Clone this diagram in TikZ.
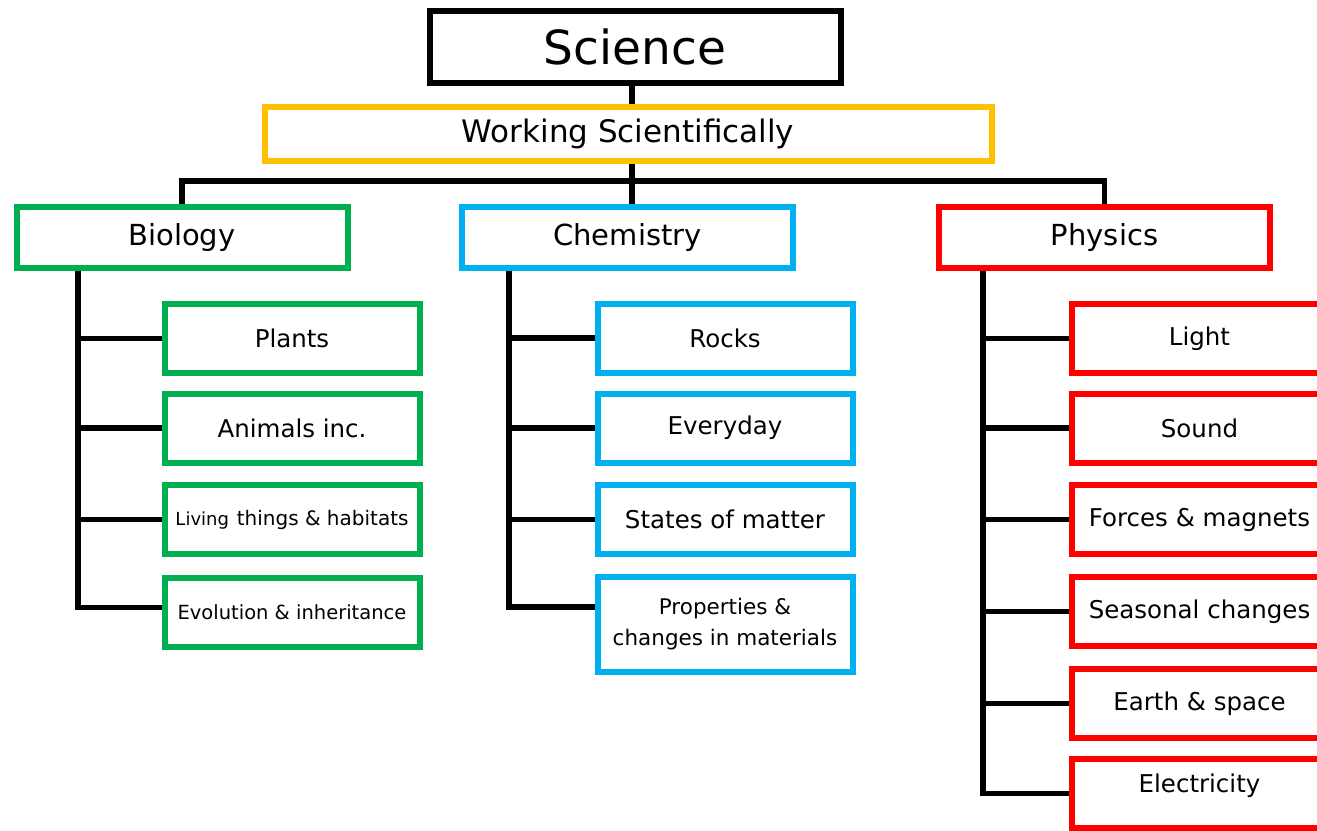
\documentclass[tikz,border=0pt]{standalone}
\usepackage{fontspec}
\setmainfont{DejaVu Sans}
\usetikzlibrary{positioning}

\definecolor{biogreen}{HTML}{00B050}
\definecolor{chemblue}{HTML}{00B0F0}
\definecolor{physred}{HTML}{FF0000}
\definecolor{wsyellow}{HTML}{FFC000}

\tikzset{
  box/.style={draw, line width=6pt, fill=white, inner sep=0pt, align=center},
  subject/.style={box, minimum width=331pt, minimum height=61pt, font=\fontsize{29}{32}\selectfont},
  topic/.style={box, minimum width=255pt, minimum height=69pt, font=\fontsize{24.5}{29}\selectfont},
  link/.style={line width=5.5pt},
}

\begin{document}
\begin{tikzpicture}[x=1pt, y=-1pt]
  \useasboundingbox (0,0) rectangle (1317,830);
  \clip (0,0) rectangle (1317,830);
  \fill[white] (0,0) rectangle (1317,830);

  % top of the tree
  \node[box, minimum width=411pt, minimum height=72pt, font=\fontsize{47}{50}\selectfont] (sci) at (635,46.5) {Science};
  \node[box, draw=wsyellow, minimum width=727pt, minimum height=54pt, font=\fontsize{31}{34}\selectfont] (work) at (628,133.5) {Working Scientifically};

  \node[subject, draw=biogreen] (bio) at (182,237) {Biology};
  \node[subject, draw=chemblue] (chem) at (627.5,237) {Chemistry};
  \node[subject, draw=physred] (phys) at (1104.5,237) {Physics};

  \coordinate (trunk) at (632,181);
  \draw[link] (trunk |- sci.south) -- (trunk |- work.north);
  \draw[link] (trunk |- work.south) -- (trunk |- chem.north);
  \draw[link] (bio.north) |- (trunk) -| (phys.north);

  % biology
  \node[topic, draw=biogreen] (plants) at (292,338.5) {Plants};
  \node[topic, draw=biogreen] (animals) at (292,428) {Animals inc.};
  \node[topic, draw=biogreen] (living) at (292,519.5) {{\fontsize{18}{22}\selectfont Living} {\fontsize{20}{22}\selectfont things \& habitats}};
  \node[topic, draw=biogreen, font=\fontsize{19.5}{22}\selectfont] (evol) at (292,612.5) {Evolution \& inheritance};

  \coordinate (biospine) at (78,0);
  \draw[link] (biospine |- bio.south) |- ([yshift=5pt]evol.west);
  \foreach \n in {plants,animals,living}
    \draw[link] (biospine |- \n.west) -- (\n.west);

  % chemistry
  \node[topic, draw=chemblue] (rocks) at (725,338) {Rocks};
  \node[topic, draw=chemblue] (everyday) at (725,428) {Everyday};
  \node[topic, draw=chemblue] (states) at (725,519.5) {States of matter};
  \node[topic, draw=chemblue, minimum height=95pt, font=\fontsize{21.5}{31}\selectfont] (props) at (725,624) {Properties \&\\changes in materials};

  \coordinate (chemspine) at (509,0);
  \draw[link] (chemspine |- chem.south) |- ([yshift=17pt]props.west);
  \foreach \n in {rocks,everyday,states}
    \draw[link] (chemspine |- \n.west) -- (\n.west);

  % physics
  \node[topic, draw=physred] (light) at (1199.5,338.5) {Light};
  \node[topic, draw=physred] (sound) at (1199.5,428) {Sound};
  \node[topic, draw=physred] (forces) at (1199.5,519.5) {Forces \& magnets};
  \node[topic, draw=physred] (seasons) at (1199.5,611.5) {Seasonal changes};
  \node[topic, draw=physred] (earth) at (1199.5,703.5) {Earth \& space};
  \node[topic, draw=physred, text depth=20pt] (elec) at (1199.5,793.5) {Electricity};

  \coordinate (physspine) at (983,0);
  \draw[link] (physspine |- phys.south) |- (elec.west);
  \foreach \n in {light,sound,forces,seasons,earth}
    \draw[link] (physspine |- \n.west) -- (\n.west);
\end{tikzpicture}
\end{document}
